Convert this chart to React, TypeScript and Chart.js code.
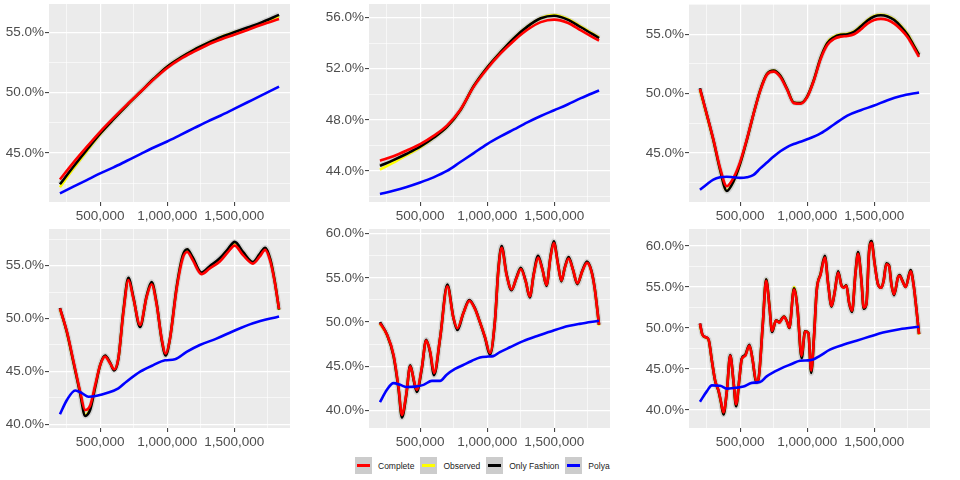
import React, { useEffect, useRef } from "react";
import { Chart, registerables } from "chart.js";
Chart.register(...registerables);

// ---------- data (values in %) ----------
const smoothX = [200000, 300000, 400000, 500000, 600000, 700000, 800000, 900000, 1000000, 1100000, 1200000, 1300000, 1400000, 1500000, 1600000, 1700000, 1835000];

const p1Complete = [42.8, 44.2, 45.5, 46.75, 47.9, 49.0, 50.05, 51.1, 52.05, 52.8, 53.4, 53.95, 54.4, 54.8, 55.2, 55.6, 56.1];
const p1Observed = [42.15, 43.7, 45.15, 46.55, 47.8, 48.95, 50.05, 51.15, 52.15, 52.9, 53.55, 54.1, 54.6, 55.0, 55.35, 55.75, 56.35];
const p1Fashion = [42.4, 43.85, 45.25, 46.6, 47.8, 48.95, 50.05, 51.15, 52.15, 52.9, 53.55, 54.1, 54.6, 55.0, 55.4, 55.8, 56.45];
const p1Polya = [41.65, 42.2, 42.75, 43.3, 43.8, 44.35, 44.9, 45.45, 45.95, 46.5, 47.05, 47.6, 48.1, 48.65, 49.2, 49.75, 50.5];

const p2Complete = [44.8, 45.15, 45.6, 46.1, 46.75, 47.55, 48.8, 50.6, 52.0, 53.2, 54.2, 55.05, 55.65, 55.85, 55.6, 55.0, 54.2];
const p2Observed = [44.1, 44.65, 45.25, 45.85, 46.6, 47.45, 48.75, 50.65, 52.1, 53.3, 54.4, 55.3, 55.95, 56.2, 55.9, 55.3, 54.45];
const p2Fashion = [44.4, 44.85, 45.35, 45.9, 46.6, 47.45, 48.75, 50.65, 52.1, 53.3, 54.4, 55.3, 55.95, 56.15, 55.85, 55.25, 54.4];
const p2Polya = [42.2, 42.45, 42.75, 43.1, 43.5, 44.0, 44.7, 45.4, 46.1, 46.7, 47.25, 47.8, 48.3, 48.75, 49.2, 49.7, 50.3];

const p3X = [200000, 250000, 300000, 350000, 400000, 450000, 500000, 550000, 600000, 650000, 700000, 750000, 800000, 850000, 900000, 950000, 1000000, 1050000, 1100000, 1150000, 1200000, 1250000, 1300000, 1350000, 1400000, 1450000, 1500000, 1550000, 1600000, 1650000, 1700000, 1750000, 1800000, 1835000];
const p3Complete = [50.4, 48.3, 46.15, 43.75, 42.2, 42.9, 44.25, 46.15, 48.3, 50.25, 51.6, 51.85, 51.4, 50.35, 49.2, 49.15, 49.7, 51.1, 52.9, 54.1, 54.6, 54.8, 54.85, 55.0, 55.4, 55.9, 56.2, 56.3, 56.2, 55.9, 55.4, 54.75, 53.8, 53.1];
const p3Observed = [50.3, 48.2, 46.05, 43.6, 41.85, 42.6, 44.1, 46.1, 48.3, 50.3, 51.65, 51.95, 51.5, 50.4, 49.25, 49.2, 49.75, 51.15, 53.0, 54.3, 54.8, 55.0, 55.05, 55.25, 55.7, 56.2, 56.55, 56.65, 56.55, 56.25, 55.7, 55.0, 54.0, 53.3];
const p3Fashion = [50.45, 48.3, 46.1, 43.6, 41.8, 42.6, 44.1, 46.1, 48.3, 50.3, 51.65, 51.95, 51.5, 50.4, 49.25, 49.2, 49.75, 51.15, 53.0, 54.25, 54.75, 54.95, 55.0, 55.2, 55.65, 56.15, 56.5, 56.6, 56.5, 56.2, 55.65, 54.95, 53.95, 53.26];
const p3PolyaX = [200000, 250000, 300000, 350000, 400000, 450000, 500000, 550000, 600000, 650000, 700000, 750000, 800000, 850000, 900000, 950000, 1000000, 1100000, 1200000, 1300000, 1400000, 1500000, 1600000, 1700000, 1835000];
const p3Polya = [41.9, 42.35, 42.75, 42.95, 43.0, 42.95, 42.9, 42.95, 43.15, 43.7, 44.2, 44.7, 45.15, 45.5, 45.75, 45.95, 46.15, 46.65, 47.4, 48.15, 48.6, 49.0, 49.45, 49.8, 50.1];

const p4X = [200000, 252000, 302000, 351000, 388000, 426000, 463000, 500000, 537000, 575000, 604000, 636000, 674000, 711000, 748000, 798000, 847000, 884000, 922000, 959000, 989000, 1021000, 1071000, 1116000, 1150000, 1190000, 1256000, 1318000, 1393000, 1455000, 1504000, 1566000, 1640000, 1690000, 1732000, 1770000, 1802000, 1835000];
const p4Complete = [50.97, 48.76, 45.9, 43.1, 41.35, 41.8, 43.7, 45.6, 46.4, 45.75, 45.2, 46.25, 50.65, 53.65, 51.9, 49.4, 52.05, 53.25, 51.3, 48.1, 46.7, 48.1, 52.85, 55.7, 56.3, 55.55, 54.2, 54.75, 55.4, 56.3, 56.9, 56.0, 55.2, 55.85, 56.5, 55.4, 53.5, 50.9];
const p4Observed = [50.9, 48.65, 45.75, 42.95, 40.9, 41.5, 43.55, 45.6, 46.45, 45.8, 45.15, 46.2, 50.75, 53.8, 51.95, 49.25, 52.1, 53.4, 51.35, 48.0, 46.55, 48.1, 52.95, 55.9, 56.5, 55.75, 54.3, 54.9, 55.65, 56.55, 57.15, 56.25, 55.3, 56.05, 56.65, 55.55, 53.6, 50.8];
const p4Fashion = [51.0, 48.7, 45.8, 42.9, 40.8, 41.4, 43.5, 45.6, 46.5, 45.8, 45.1, 46.2, 50.8, 53.85, 52.0, 49.2, 52.15, 53.45, 51.4, 48.0, 46.5, 48.1, 53.0, 55.95, 56.55, 55.8, 54.35, 54.95, 55.7, 56.6, 57.25, 56.3, 55.35, 56.1, 56.7, 55.6, 53.6, 50.85];
const p4PolyaX = [200000, 252000, 314000, 364000, 413000, 475000, 550000, 636000, 698000, 802000, 897000, 984000, 1058000, 1145000, 1244000, 1368000, 1492000, 1641000, 1835000];
const p4Polya = [40.95, 42.3, 43.2, 42.95, 42.6, 42.7, 42.95, 43.4, 44.05, 45.0, 45.6, 46.05, 46.15, 46.85, 47.5, 48.1, 48.8, 49.55, 50.2];

const p5X = [200000, 252000, 301000, 339000, 364000, 396000, 426000, 455000, 475000, 512000, 545000, 574000, 604000, 649000, 703000, 748000, 778000, 822000, 867000, 909000, 946000, 984000, 1021000, 1058000, 1083000, 1108000, 1144000, 1182000, 1219000, 1251000, 1288000, 1318000, 1348000, 1380000, 1413000, 1443000, 1472000, 1497000, 1529000, 1554000, 1579000, 1608000, 1641000, 1673000, 1711000, 1745000, 1778000, 1802000, 1835000];
const p5Complete = [49.9, 48.6, 46.3, 42.55, 39.5, 41.8, 45.0, 43.3, 42.35, 44.8, 47.9, 46.7, 44.25, 48.2, 54.05, 50.5, 49.3, 51.0, 52.4, 51.5, 50.0, 48.3, 46.5, 50.1, 55.75, 58.4, 55.4, 53.7, 55.0, 56.0, 54.6, 52.9, 55.4, 57.3, 55.9, 54.2, 57.25, 58.95, 56.5, 54.7, 56.1, 57.2, 55.9, 54.4, 55.8, 56.7, 55.75, 53.85, 49.7];
const p5Observed = [49.8, 48.55, 46.2, 42.45, 39.3, 41.7, 45.05, 43.25, 42.2, 44.75, 47.95, 46.65, 44.1, 48.2, 54.15, 50.5, 49.2, 51.0, 52.45, 51.5, 50.0, 48.3, 46.4, 50.1, 55.8, 58.5, 55.45, 53.65, 55.0, 56.1, 54.6, 52.85, 55.45, 57.4, 55.9, 54.15, 57.3, 59.05, 56.5, 54.65, 56.1, 57.3, 55.9, 54.35, 55.8, 56.8, 55.75, 53.85, 49.6];
const p5Fashion = [50.0, 48.6, 46.2, 42.4, 39.2, 41.7, 45.1, 43.2, 42.1, 44.7, 48.0, 46.6, 44.0, 48.2, 54.25, 50.5, 49.1, 51.0, 52.5, 51.55, 50.0, 48.25, 46.3, 50.1, 55.85, 58.6, 55.5, 53.6, 55.05, 56.15, 54.6, 52.8, 55.5, 57.5, 55.95, 54.1, 57.35, 59.15, 56.55, 54.6, 56.15, 57.35, 55.9, 54.3, 55.85, 56.85, 55.8, 53.9, 49.7];
const p5PolyaX = [200000, 252000, 301000, 351000, 400000, 463000, 525000, 587000, 649000, 698000, 760000, 822000, 884000, 946000, 1009000, 1045000, 1095000, 1170000, 1269000, 1368000, 1467000, 1566000, 1690000, 1835000];
const p5Polya = [40.95, 42.35, 43.1, 42.9, 42.65, 42.7, 42.9, 43.35, 43.35, 44.05, 44.7, 45.15, 45.6, 46.0, 46.1, 46.15, 46.6, 47.15, 47.85, 48.4, 48.9, 49.4, 49.8, 50.15];

const p6X = [200000, 217000, 239000, 264000, 289000, 314000, 339000, 356000, 376000, 401000, 426000, 450000, 470000, 495000, 512000, 537000, 569000, 594000, 619000, 636000, 669000, 694000, 718000, 738000, 768000, 792000, 810000, 827000, 852000, 867000, 902000, 927000, 959000, 984000, 1009000, 1030000, 1051000, 1071000, 1101000, 1132000, 1157000, 1182000, 1207000, 1231000, 1256000, 1273000, 1293000, 1313000, 1335000, 1360000, 1380000, 1405000, 1422000, 1442000, 1462000, 1480000, 1504000, 1529000, 1554000, 1571000, 1591000, 1611000, 1629000, 1648000, 1678000, 1690000, 1710000, 1735000, 1772000, 1795000, 1814000, 1835000];
const p6Complete = [50.55, 49.25, 48.9, 48.6, 46.0, 43.55, 42.35, 41.1, 39.7, 42.35, 46.6, 43.55, 40.7, 43.95, 46.2, 46.6, 47.85, 46.0, 43.55, 43.75, 50.45, 55.75, 52.7, 49.65, 50.9, 50.65, 51.05, 51.35, 50.65, 50.05, 54.7, 52.5, 46.6, 49.55, 49.35, 44.8, 48.85, 54.5, 56.55, 58.6, 55.3, 52.7, 54.5, 56.75, 55.15, 54.9, 55.15, 53.1, 52.1, 56.55, 59.05, 55.75, 52.5, 52.9, 59.2, 60.4, 57.75, 55.3, 54.9, 55.75, 57.75, 57.55, 55.3, 54.1, 56.15, 56.35, 55.75, 55.0, 56.9, 55.15, 52.5, 49.25];
const p6Observed = [50.3, 49.2, 48.85, 48.55, 45.95, 43.5, 42.25, 40.95, 39.5, 42.3, 46.65, 43.5, 40.5, 43.9, 46.2, 46.65, 47.9, 46.0, 43.4, 43.7, 50.5, 55.9, 52.75, 49.55, 50.95, 50.7, 51.1, 51.4, 50.7, 50.0, 55.0, 52.55, 46.4, 49.6, 49.4, 44.6, 48.9, 54.55, 56.65, 58.75, 55.35, 52.65, 54.55, 56.85, 55.2, 54.95, 55.2, 53.1, 52.0, 56.6, 59.2, 55.8, 52.4, 52.9, 59.3, 60.55, 57.8, 55.3, 54.9, 55.8, 57.85, 57.6, 55.3, 54.05, 56.2, 56.4, 55.8, 55.0, 57.0, 55.2, 52.5, 49.2];
const p6Fashion = [50.55, 49.25, 48.9, 48.6, 46.0, 43.5, 42.3, 41.0, 39.45, 42.35, 46.7, 43.5, 40.45, 43.95, 46.25, 46.7, 47.95, 46.0, 43.35, 43.7, 50.5, 55.95, 52.75, 49.5, 50.95, 50.7, 51.1, 51.4, 50.7, 50.0, 54.85, 52.5, 46.3, 49.6, 49.4, 44.5, 48.9, 54.55, 56.65, 58.8, 55.35, 52.6, 54.55, 56.9, 55.2, 54.95, 55.2, 53.05, 51.95, 56.6, 59.25, 55.8, 52.35, 52.9, 59.35, 60.6, 57.85, 55.3, 54.9, 55.8, 57.9, 57.65, 55.3, 54.0, 56.2, 56.45, 55.8, 55.0, 57.05, 55.2, 52.5, 49.25];
const p6PolyaX = [200000, 252000, 289000, 351000, 400000, 463000, 525000, 587000, 649000, 698000, 760000, 822000, 884000, 946000, 1009000, 1045000, 1095000, 1170000, 1269000, 1368000, 1467000, 1566000, 1690000, 1835000];
const p6Polya = [41.0, 42.3, 43.0, 42.95, 42.6, 42.7, 42.85, 43.3, 43.4, 44.1, 44.7, 45.2, 45.6, 46.0, 46.05, 46.15, 46.6, 47.35, 47.95, 48.45, 48.95, 49.45, 49.85, 50.15];

// axis tick definitions
const xTickValues = [250000, 500000, 750000, 1000000, 1250000, 1500000, 1750000];
const xMajorStep = 500000;

const legendLabels = ["Complete", "Observed", "Only Fashion", "Polya"];
const seriesColors = ["#FF0000", "#FFFF00", "#000000", "#0000FF"];

type Panel = {
  xMain: number[];
  complete: number[];
  observed: number[];
  fashion: number[];
  xPolya: number[];
  polya: number[];
  yMin: number;
  yMax: number;
  yStep: number;
};

const panels: Panel[] = [
  { xMain: smoothX, complete: p1Complete, observed: p1Observed, fashion: p1Fashion, xPolya: smoothX, polya: p1Polya, yMin: 40.93, yMax: 57.35, yStep: 5 },
  { xMain: smoothX, complete: p2Complete, observed: p2Observed, fashion: p2Fashion, xPolya: smoothX, polya: p2Polya, yMin: 41.57, yMax: 57.07, yStep: 4 },
  { xMain: p3X, complete: p3Complete, observed: p3Observed, fashion: p3Fashion, xPolya: p3PolyaX, polya: p3Polya, yMin: 40.87, yMax: 57.55, yStep: 5 },
  { xMain: p4X, complete: p4Complete, observed: p4Observed, fashion: p4Fashion, xPolya: p4PolyaX, polya: p4Polya, yMin: 39.65, yMax: 58.47, yStep: 5 },
  { xMain: p5X, complete: p5Complete, observed: p5Observed, fashion: p5Fashion, xPolya: p5PolyaX, polya: p5Polya, yMin: 38.02, yMax: 60.53, yStep: 5 },
  { xMain: p6X, complete: p6Complete, observed: p6Observed, fashion: p6Fashion, xPolya: p6PolyaX, polya: p6Polya, yMin: 37.8, yMax: 62.07, yStep: 5 },
];

// x range with ggplot-like 5% expansion
const allX = [...smoothX, ...p3X, ...p4X, ...p5X, ...p6X];
const xLo = Math.min(...allX);
const xHi = Math.max(...allX);
const xPad = (xHi - xLo) * 0.05;

const FONT = '"Liberation Sans", Arial, Helvetica, sans-serif';

const pts = (xs: number[], ys: number[]) => xs.map((x, i) => ({ x, y: ys[i] }));

const panelBg = {
  id: "panelBg",
  beforeDraw(chart: any) {
    const { ctx, chartArea: a } = chart;
    ctx.save();
    ctx.fillStyle = "#EBEBEB";
    ctx.fillRect(a.left, a.top, a.right - a.left, a.bottom - a.top);
    ctx.restore();
  },
};

function PanelChart({ panel, left, top, axisH }: { panel: Panel; left: number; top: number; axisH: number }) {
  const ref = useRef<HTMLCanvasElement | null>(null);
  useEffect(() => {
    if (!ref.current) return;
    const isMajorY = (v: number) => Math.abs(v / panel.yStep - Math.round(v / panel.yStep)) < 1e-6;
    const isMajorX = (v: number) => v % xMajorStep === 0;
    const line = (label: string, data: any, color: string, width: number) => ({
      label,
      data,
      borderColor: color,
      borderWidth: width,
      pointRadius: 0,
      fill: false,
      cubicInterpolationMode: "monotone" as const,
      borderJoinStyle: "round" as const,
    });
    const chart = new Chart(ref.current, {
      type: "line",
      data: {
        datasets: [
          line(legendLabels[3], pts(panel.xPolya, panel.polya), seriesColors[3], 2.6),
          line(legendLabels[0], pts(panel.xMain, panel.complete), seriesColors[0], 2.6),
          line(legendLabels[2], pts(panel.xMain, panel.fashion), seriesColors[2], 2.6),
          line(legendLabels[1], pts(panel.xMain, panel.observed), seriesColors[1], 2.6),
          line("band", pts(panel.xMain, panel.fashion), "rgba(150,150,150,0.3)", 5.5),
        ],
      },
      options: {
        animation: false,
        responsive: false,
        devicePixelRatio: window.devicePixelRatio || 1,
        layout: { padding: { left: 0, right: 30, top: 4, bottom: 0 } },
        plugins: { legend: { display: false }, tooltip: { enabled: false } },
        events: [],
        scales: {
          x: {
            type: "linear",
            min: xLo - xPad,
            max: xHi + xPad,
            afterBuildTicks: (s: any) => {
              s.ticks = xTickValues.map((v) => ({ value: v }));
            },
            afterFit: (s: any) => {
              s.height = axisH;
              s.paddingLeft = 0;
              s.paddingRight = 0;
            },
            ticks: {
              autoSkip: false,
              maxRotation: 0,
              minRotation: 0,
              padding: 2,
              color: "#4D4D4D",
              font: { family: FONT, size: 13.5 },
              callback: (v: any) => (isMajorX(Number(v)) ? Number(v).toLocaleString("en-US") : ""),
            },
            grid: {
              color: "#FFFFFF",
              lineWidth: (c: any) => (c.tick && isMajorX(c.tick.value) ? 1.2 : 0.6),
              tickColor: (c: any) => (c.tick && isMajorX(c.tick.value) ? "#333333" : "rgba(0,0,0,0)"),
              tickWidth: 1,
              tickLength: 4,
              drawTicks: true,
            },
            border: { display: false },
          },
          y: {
            type: "linear",
            min: panel.yMin,
            max: panel.yMax,
            afterBuildTicks: (s: any) => {
              const half = panel.yStep / 2;
              const t: any[] = [];
              for (let v = Math.ceil(panel.yMin / half) * half; v <= panel.yMax + 1e-9; v += half) {
                t.push({ value: Math.round(v * 1000) / 1000 });
              }
              s.ticks = t;
            },
            afterFit: (s: any) => {
              s.width = 49;
              s.paddingTop = 0;
              s.paddingBottom = 0;
            },
            ticks: {
              autoSkip: false,
              padding: 1,
              color: "#4D4D4D",
              font: { family: FONT, size: 13.5 },
              callback: (v: any) => (isMajorY(Number(v)) ? Number(v).toFixed(1) + "%" : ""),
            },
            grid: {
              color: "#FFFFFF",
              lineWidth: (c: any) => (c.tick && isMajorY(c.tick.value) ? 1.2 : 0.6),
              tickColor: (c: any) => (c.tick && isMajorY(c.tick.value) ? "#333333" : "rgba(0,0,0,0)"),
              tickWidth: 1,
              tickLength: 4,
              drawTicks: true,
            },
            border: { display: false },
          },
        },
      },
      plugins: [panelBg],
    } as any);
    return () => chart.destroy();
  }, [panel, axisH]);
  return (
    <canvas
      ref={ref}
      width={320}
      height={225}
      style={{ position: "absolute", left, top, width: 320, height: 225 }}
    />
  );
}

function Legend() {
  return (
    <div
      style={{
        position: "absolute",
        left: 355,
        top: 457,
        height: 17,
        display: "flex",
        alignItems: "center",
        fontFamily: FONT,
        fontSize: 8.5,
        color: "#1A1A1A",
        whiteSpace: "nowrap",
      }}
    >
      {legendLabels.map((lab, i) => (
        <div key={lab} style={{ display: "flex", alignItems: "center", marginRight: 6 }}>
          <div
            style={{
              width: 17,
              height: 17,
              background: "#CCCCCC",
              position: "relative",
              marginRight: 6,
            }}
          >
            <div
              style={{
                position: "absolute",
                left: 2,
                right: 2,
                top: 7,
                height: 3,
                background: seriesColors[i],
              }}
            />
          </div>
          <span>{lab}</span>
        </div>
      ))}
    </div>
  );
}

export default function App() {
  return (
    <div style={{ position: "fixed", left: 0, top: 0, width: 960, height: 480, background: "#FFFFFF", overflow: "hidden" }}>
      {panels.map((p, i) => (
        <PanelChart
          key={i}
          panel={p}
          left={(i % 3) * 320}
          top={i < 3 ? 0 : 225}
          axisH={i < 3 ? 23 : 22}
        />
      ))}
      <Legend />
    </div>
  );
}
